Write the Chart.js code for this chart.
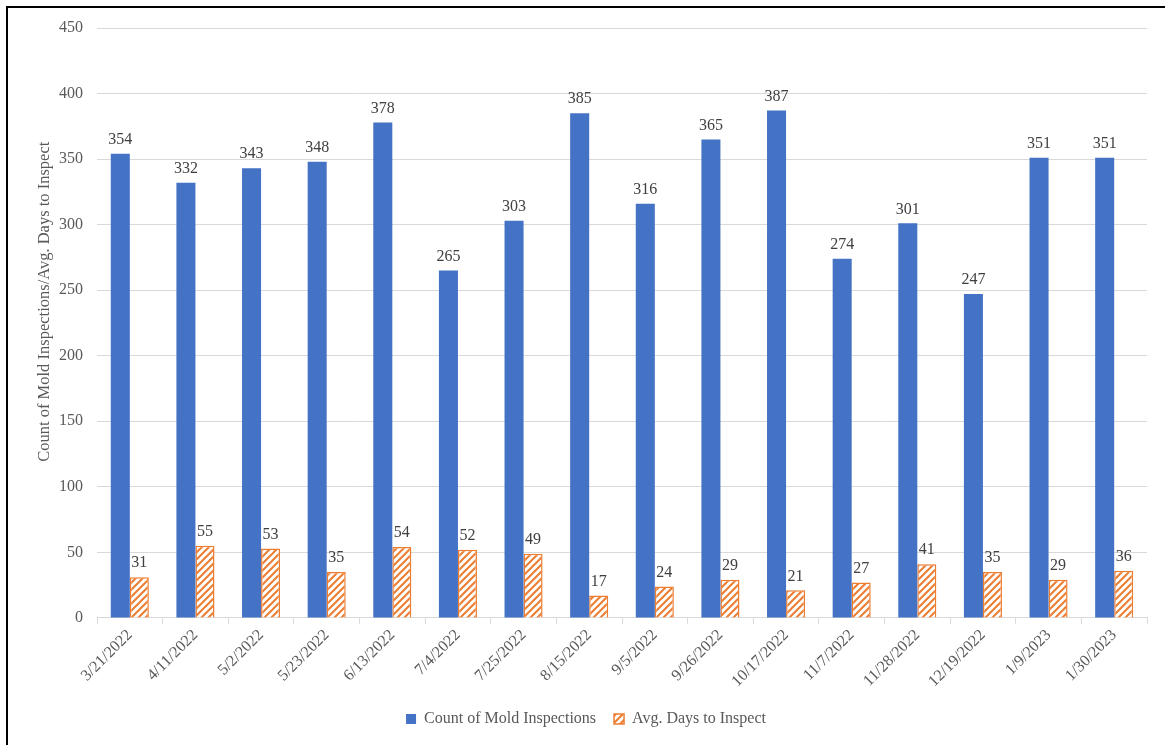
<!DOCTYPE html>
<html>
<head>
<meta charset="utf-8">
<script src="https://cdn.jsdelivr.net/npm/chart.js@4.4.1/dist/chart.umd.min.js"></script>
<style>
  html, body { margin: 0; padding: 0; background: #fff; }
  #wrap { position: relative; width: 1165px; height: 745px; overflow: hidden; }
  #frame { position: absolute; left: 6px; top: 6px; width: 1300px; height: 900px;
           border-left: 2px solid #000; border-top: 2px solid #000; pointer-events: none; }
  canvas { position: absolute; left: 0; top: 0; }
</style>
</head>
<body>
<div id="wrap">
  <canvas id="c" width="1165" height="745"></canvas>
  <div id="frame"></div>
</div>
<script>
const categories = ["3/21/2022","4/11/2022","5/2/2022","5/23/2022","6/13/2022","7/4/2022","7/25/2022","8/15/2022","9/5/2022","9/26/2022","10/17/2022","11/7/2022","11/28/2022","12/19/2022","1/9/2023","1/30/2023"];
const inspectionCounts = [354,332,343,348,378,265,303,385,316,365,387,274,301,247,351,351];
const avgDaysToInspect = [31,55,53,35,54,52,49,17,24,29,21,27,41,35,29,36];
const yTicks = [0,50,100,150,200,250,300,350,400,450];
const yTitle = 'Count of Mold Inspections/Avg. Days to Inspect';

const BLUE = '#4472C4';
const ORANGE = '#ED7D31';
const FONT = '"Liberation Serif", "Times New Roman", serif';

function hatch() {
  const s = 7;
  const p = document.createElement('canvas');
  p.width = s; p.height = s;
  const g = p.getContext('2d');
  g.fillStyle = '#fff';
  g.fillRect(0, 0, s, s);
  g.strokeStyle = ORANGE;
  g.lineWidth = 2;
  g.beginPath();
  g.moveTo(-1, s + 1); g.lineTo(s + 1, -1);
  g.moveTo(-1, 1); g.lineTo(1, -1);
  g.moveTo(s - 1, s + 1); g.lineTo(s + 1, s - 1);
  g.stroke();
  return document.getElementById('c').getContext('2d').createPattern(p, 'repeat');
}

const valueLabels = {
  id: 'valueLabels',
  afterDatasetsDraw(chart) {
    const ctx = chart.ctx;
    ctx.save();
    ctx.font = '16px ' + FONT;
    ctx.fillStyle = '#404040';
    ctx.textAlign = 'center';
    ctx.textBaseline = 'bottom';
    chart.data.datasets.forEach((ds, i) => {
      const meta = chart.getDatasetMeta(i);
      meta.data.forEach((bar, j) => {
        ctx.fillText(String(ds.data[j]), bar.x, bar.y - 6);
      });
    });
    ctx.restore();
  }
};

const axisTitle = {
  id: 'axisTitle',
  afterDraw(chart) {
    const ctx = chart.ctx;
    ctx.save();
    ctx.translate(45, chart.chartArea.top + (chart.chartArea.bottom - chart.chartArea.top) * 0.464);
    ctx.rotate(-Math.PI / 2);
    ctx.font = '16.5px ' + FONT;
    ctx.fillStyle = '#595959';
    ctx.textAlign = 'center';
    ctx.textBaseline = 'middle';
    ctx.fillText(yTitle, 0, 0);
    ctx.restore();
  }
};

new Chart(document.getElementById('c'), {
  type: 'bar',
  data: {
    labels: categories,
    datasets: [
      { label: 'Count of Mold Inspections', data: inspectionCounts,
        backgroundColor: BLUE, borderWidth: 0 },
      { label: 'Avg. Days to Inspect', data: avgDaysToInspect,
        backgroundColor: hatch(), borderColor: ORANGE, borderWidth: 1.5 }
    ]
  },
  options: {
    responsive: false,
    animation: false,
    devicePixelRatio: 1,
    layout: { padding: { left: 25, right: 18, top: 28, bottom: 8 } },
    datasets: { bar: { categoryPercentage: 0.58, barPercentage: 1.0 } },
    plugins: {
      legend: {
        position: 'bottom',
        labels: { font: { family: FONT, size: 16 }, color: '#595959',
                  boxWidth: 10, boxHeight: 10, padding: 18 }
      },
      tooltip: { enabled: false }
    },
    scales: {
      x: {
        grid: { drawOnChartArea: false, drawTicks: true, tickLength: 6, color: '#d9d9d9', offset: true },
        border: { color: '#d9d9d9' },
        ticks: { font: { family: FONT, size: 16 }, color: '#595959', minRotation: 45, maxRotation: 45, autoSkip: false, padding: 2 }
      },
      y: {
        min: 0, max: 450,
        afterBuildTicks(scale) { scale.ticks = yTicks.map(v => ({ value: v })); },
        afterFit(scale) { scale.width = 97 - 25; },
        grid: { color: '#d9d9d9', drawTicks: false, lineWidth: 1 },
        border: { display: false },
        ticks: { font: { family: FONT, size: 16 }, color: '#595959', padding: 14 },
        title: { display: false }
      }
    }
  },
  plugins: [valueLabels, axisTitle]
});
</script>
</body>
</html>
